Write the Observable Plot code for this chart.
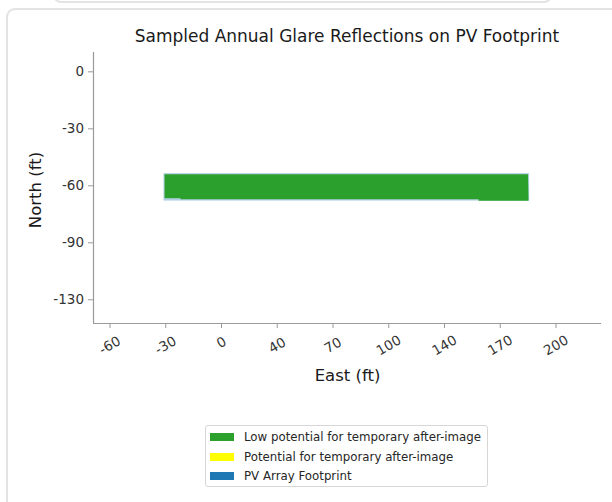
<!DOCTYPE html>
<html>
<head>
<meta charset="utf-8">
<script src="https://cdn.jsdelivr.net/npm/d3@7"></script>
<script src="https://cdn.jsdelivr.net/npm/@observablehq/plot@0.6"></script>
<style>
  html, body { margin: 0; padding: 0; background: #fff; }
  body { width: 612px; height: 502px; position: relative; overflow: hidden; font-family: "DejaVu Sans", sans-serif; }
  .prevcard { position: absolute; left: 53px; top: -30px; width: 495px; height: 29px; border: 2px solid #e3e3e3; border-radius: 8px; }
  .card { position: absolute; left: 6px; top: 8px; width: 640px; height: 520px; border: 2px solid #e3e3e3; border-radius: 9px; }
  #chart { position: absolute; left: 0; top: 0; }
  .title { position: absolute; left: 93px; width: 508px; top: 26px; text-align: center; font-size: 17px; color: #1a1a1a; white-space: nowrap; }
  .legend { position: absolute; left: 205px; top: 425px; width: 281px; height: 60px; border: 1px solid #d6d6d6; border-radius: 3px; background: #fff; }
  .item { position: absolute; left: 4px; height: 16px; display: flex; align-items: center; font-size: 11.8px; color: #262626; white-space: nowrap; }
  .sw { width: 24px; height: 8px; margin-right: 10px; }
</style>
</head>
<body>
<div class="prevcard"></div>
<div class="card"></div>
<div id="chart"></div>
<div class="title">Sampled Annual Glare Reflections on PV Footprint</div>
<div class="legend" id="legend"></div>
<script>
// Tick positions (plot units) and their printed labels
const xTickValues = [-20, -10, 0, 10, 20, 30, 40, 50, 60];
const xTickLabels = ["-60", "-30", "0", "40", "70", "100", "140", "170", "200"];
const yTickValues = [0, -10, -20, -30, -40];
const yTickLabels = ["0", "-30", "-60", "-90", "-130"];

// PV array footprint polygon
const footprintX = [-10.32, 55.1, 55.12, -10.32];
const footprintY = [-17.86, -17.86, -22.52, -22.52];

// Sampled glare region (low potential for temporary after-image)
const glareX = [-10.22, 54.98, 55.07, 46.1, 46.1, -7.35, -7.35, -10.22];
const glareY = [-17.98, -17.98, -22.62, -22.62, -22.37, -22.37, -22.2, -22.2];

// Legend
const legendLabels = ["Low potential for temporary after-image", "Potential for temporary after-image", "PV Array Footprint"];
const legendColors = ["#2ca02c", "#ffff00", "#1f77b4"];

const footprint = footprintX.map((x, i) => ({x, y: footprintY[i]}));
const glare = glareX.map((x, i) => ({x, y: glareY[i]}));
const xTicks = xTickValues.map((v, i) => ({v, label: xTickLabels[i]}));
const yLabelOf = new Map(yTickValues.map((v, i) => [v, yTickLabels[i]]));

const xDomain = [-22.96, 68.16];
const yDomain = [-44.16, 3.39];
const spine = "#9a9a9a";

const plot = Plot.plot({
  width: 612,
  height: 502,
  marginLeft: 93,
  marginRight: 11,
  marginTop: 52,
  marginBottom: 179,
  style: {background: "transparent", fontFamily: "DejaVu Sans, sans-serif"},
  x: {domain: xDomain},
  y: {domain: yDomain},
  marks: [
    Plot.line(footprint, {x: "x", y: "y", fill: "#1f77b4", fillOpacity: 0.3, stroke: "#1f77b4", strokeOpacity: 0.25, strokeWidth: 0.8, curve: "linear-closed"}),
    Plot.line(glare, {x: "x", y: "y", fill: "#2ca02c", stroke: "none", curve: "linear-closed"}),
    Plot.axisY({ticks: yTickValues, tickFormat: d => yLabelOf.get(d), tickSize: 5, tickPadding: 4.5, fontSize: 13.5, color: "#333", stroke: spine, label: null}),
    Plot.axisX({ticks: xTickValues, tickFormat: () => "", tickSize: 5, stroke: spine, label: null}),
    Plot.text(xTicks.filter(d => d.label.length === 1), {x: "v", text: "label", frameAnchor: "bottom", dy: 19, rotate: -30, textAnchor: "middle", lineAnchor: "middle", fontSize: 13.5, fill: "#333"}),
    Plot.text(xTicks.filter(d => d.label.length > 1), {x: "v", text: "label", frameAnchor: "bottom", dy: 22, rotate: -30, textAnchor: "middle", lineAnchor: "middle", fontSize: 13.5, fill: "#333"}),
    Plot.ruleX([xDomain[0]], {stroke: spine, strokeWidth: 1.2}),
    Plot.ruleY([yDomain[0]], {stroke: spine, strokeWidth: 1.2}),
    Plot.text(["North (ft)"], {frameAnchor: "left", dx: -58, dy: 2, rotate: -90, textAnchor: "middle", fontSize: 16.5, fill: "#1a1a1a", lineAnchor: "middle"}),
    Plot.text(["East (ft)"], {frameAnchor: "bottom", dy: 52, textAnchor: "middle", fontSize: 16.5, fill: "#1a1a1a", lineAnchor: "middle"})
  ]
});
document.getElementById("chart").appendChild(plot);

const legend = document.getElementById("legend");
legendLabels.forEach((label, i) => {
  const item = document.createElement("div");
  item.className = "item";
  item.style.top = (3 + i * 19.5) + "px";
  const sw = document.createElement("div");
  sw.className = "sw";
  sw.style.background = legendColors[i];
  item.appendChild(sw);
  item.appendChild(document.createTextNode(label));
  legend.appendChild(item);
});
</script>
</body>
</html>
